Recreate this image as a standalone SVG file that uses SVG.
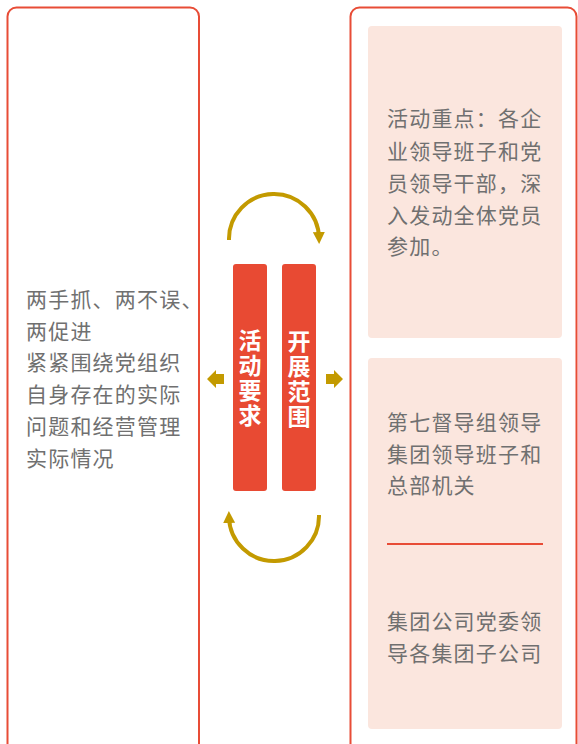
<svg xmlns="http://www.w3.org/2000/svg" width="578" height="744" viewBox="0 0 578 744">
<style>
.outer{fill:none;stroke:#e84c36;stroke-width:2}
.panel{fill:#fbe6de}
.bar{fill:#e84a33}
.txt{font-family:"Noto Sans CJK SC","Noto Sans",sans-serif;font-size:21px;fill:#707070;letter-spacing:1.2px}
.vt{font-family:"Noto Sans CJK SC","Noto Sans",sans-serif;font-size:23px;font-weight:bold;fill:#ffffff;writing-mode:vertical-rl;letter-spacing:2px}
.arc{fill:none;stroke:#c39a00;stroke-width:4}
.gold{fill:#c39a00}
</style>
<defs>
<marker id="ah" viewBox="0 0 10 10" refX="5" refY="5" markerWidth="3" markerHeight="3" orient="auto">
<path d="M0,0 L10,5 L0,10 z" fill="#c39a00"/>
</marker>
</defs>
<g id="left-box">
<rect class="outer" x="7.5" y="7.5" width="191.5" height="745" rx="9"/>
<text class="txt" x="26" y="307">两手抓、两不误、</text>
<text class="txt" x="26" y="339">两促进</text>
<text class="txt" x="26" y="370">紧紧围绕党组织</text>
<text class="txt" x="26" y="402">自身存在的实际</text>
<text class="txt" x="26" y="434">问题和经营管理</text>
<text class="txt" x="26" y="466">实际情况</text>
</g>
<g id="right-box">
<rect class="outer" x="350.5" y="7.5" width="226" height="745" rx="9"/>
</g>
<g id="panel-focus">
<rect class="panel" x="368" y="26" width="194" height="312" rx="4"/>
<text class="txt" x="387" y="126">活动重点：各企</text>
<text class="txt" x="387" y="159">业领导班子和党</text>
<text class="txt" x="387" y="191">员领导干部，深</text>
<text class="txt" x="387" y="223">入发动全体党员</text>
<text class="txt" x="387" y="254">参加。</text>
</g>
<g id="panel-scope">
<rect class="panel" x="368" y="358" width="194" height="371" rx="4"/>
<text class="txt" x="387" y="430">第七督导组领导</text>
<text class="txt" x="387" y="462">集团领导班子和</text>
<text class="txt" x="387" y="493">总部机关</text>
<line x1="387" y1="544" x2="543" y2="544" stroke="#e84c36" stroke-width="2"/>
<text class="txt" x="387" y="629">集团公司党委领</text>
<text class="txt" x="387" y="661">导各集团子公司</text>
</g>
<g id="bar-requirements">
<rect class="bar" x="233" y="264" width="34" height="227" rx="3"/>
<text class="vt" x="250" y="329">活动要求</text>
</g>
<g id="bar-scope">
<rect class="bar" x="282" y="264" width="34" height="227" rx="3"/>
<text class="vt" x="299" y="330">开展范围</text>
</g>
<g id="connectors">
<path class="arc" d="M229,240 A45,45 0 0 1 319,238" marker-end="url(#ah)"/>
<path class="arc" d="M319,515 A45,45 0 0 1 229,517" marker-end="url(#ah)"/>
<path class="gold" d="M207,379 L216,370 L216,374 L224,374 L224,384 L216,384 L216,388 z"/>
<path class="gold" d="M343,379 L334,370 L334,374 L326,374 L326,384 L334,384 L334,388 z"/>
</g>
</svg>
